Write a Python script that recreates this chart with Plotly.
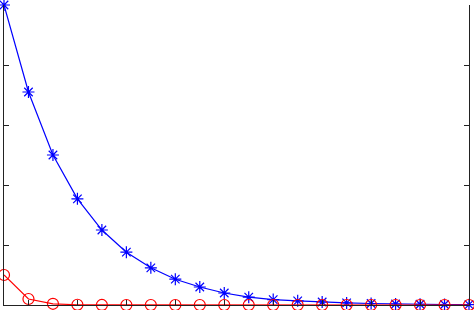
import plotly.graph_objects as go

x_vals = list(range(1, 21))
blue_vals = [5.0, 3.55, 2.5, 1.77, 1.25, 0.88, 0.62, 0.43, 0.3, 0.2,
             0.13, 0.09, 0.07, 0.05, 0.035, 0.025, 0.017, 0.012, 0.008, 0.006]
red_vals = [0.5, 0.1, 0.02, 0.004, 0.0008, 0.0002, 0.0, 0.0, 0.0, 0.0,
            0.0, 0.0, 0.0, 0.0, 0.0, 0.0, 0.0, 0.0, 0.0, 0.0]
y_ticks = [0, 1, 2, 3, 4, 5]
x_ticks = list(range(2, 21, 2))

fig = go.Figure()
fig.add_trace(go.Scatter(
    x=x_vals, y=blue_vals, mode="lines+markers",
    line=dict(color="#0000ff", width=1.2),
    marker=dict(symbol="asterisk-open", size=10, color="#0000ff",
                line=dict(color="#0000ff", width=1.2)),
    cliponaxis=False, showlegend=False))
fig.add_trace(go.Scatter(
    x=x_vals, y=red_vals, mode="lines+markers",
    line=dict(color="#ff0000", width=1.2),
    marker=dict(symbol="circle-open", size=11, color="#ff0000",
                line=dict(color="#ff0000", width=1.2)),
    cliponaxis=False, showlegend=False))

fig.update_layout(
    width=474, height=310,
    margin=dict(l=4, r=5, t=5, b=5),
    paper_bgcolor="white", plot_bgcolor="white",
    xaxis=dict(range=[1, 20], tickvals=x_ticks, showticklabels=False,
               ticks="inside", ticklen=5, tickcolor="#222", tickwidth=1,
               showline=True, linecolor="#222", linewidth=1.2,
               mirror=False, showgrid=False, zeroline=False),
    yaxis=dict(range=[0, 5], tickvals=y_ticks, showticklabels=False,
               ticks="inside", ticklen=5, tickcolor="#222", tickwidth=1,
               showline=True, linecolor="#222", linewidth=1.2,
               mirror="ticks", showgrid=False, zeroline=False),
)

fig.write_html("out.html")
